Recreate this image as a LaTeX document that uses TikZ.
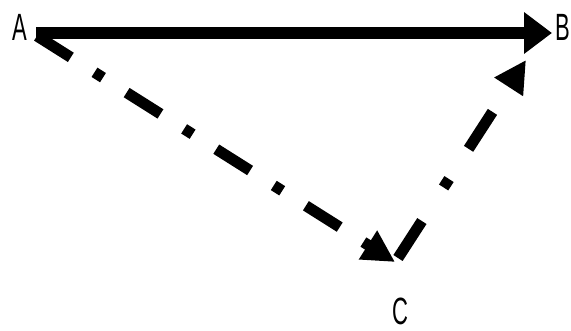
\documentclass[tikz,border=0pt]{standalone}
\usepackage{fontspec}
\setmainfont{Liberation Sans}
\usetikzlibrary{arrows.meta}

\begin{document}
\begin{tikzpicture}[
    x=1pt, y=-1pt,
    every node/.style={font=\fontsize{38}{40}\selectfont, inner sep=0pt, xscale=0.58},
    solidarrow/.style={line width=12pt, -{Triangle[length=28pt, width=40pt]}},
    dasharrow/.style={line width=11pt, -{Triangle[length=32pt, width=32pt]}}
]

% Frame of the picture
\useasboundingbox (0,0) rectangle (571,331);

% === Labels ===
\node (A) at (20,27.5) {A};
\node (B) at (563,27) {B};
\node (C) at (400,311) {C};

% === Line ends ===
\coordinate (ab) at (36,33);
\coordinate (ba) at (552,33);
\coordinate (ac) at (37,36);
\coordinate (ca) at (395,262);
\coordinate (cb) at (398,258);
\coordinate (bc) at (526,60);

% A to B (solid)
\draw[solidarrow] (ab) -- (ba);

% A to C (dash-dot)
\draw[dasharrow, dash pattern=on 40pt off 28pt on 10pt off 28pt] (ac) -- (ca);

% C to B (dash-dot)
\draw[dasharrow, dash pattern=on 44pt off 40pt on 10pt off 36pt] (cb) -- (bc);

\end{tikzpicture}
\end{document}
